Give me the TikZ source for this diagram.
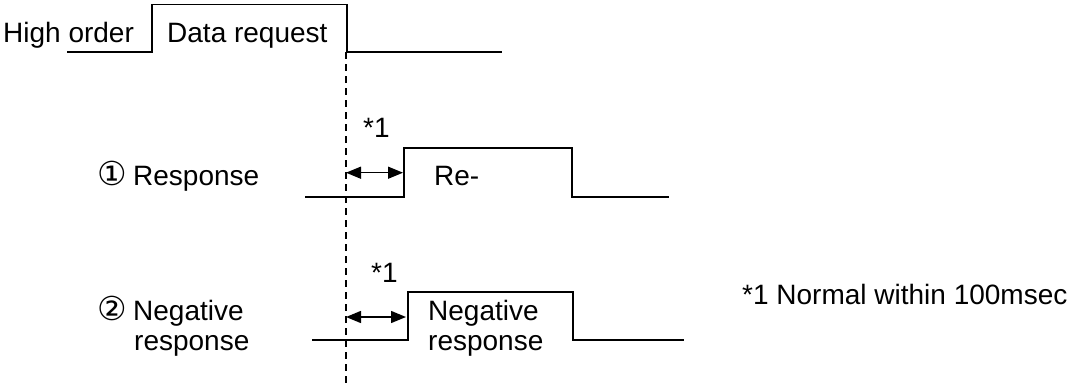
\documentclass[tikz,border=0pt]{standalone}
\usepackage{fontspec}
\setmainfont{Liberation Sans}
\newfontfamily\symfont{DejaVu Sans}
\usetikzlibrary{arrows.meta}
\newcommand{\circnum}[1]{\makebox[36pt][l]{\fontsize{33}{30}\symfont #1}}
\begin{document}
\begin{tikzpicture}[x=1pt,y=-1pt,
  wave/.style={line width=1.6pt, line join=miter},
  guide/.style={line width=1.4pt, dash pattern=on 7pt off 5pt},
  span/.style={line width=1.4pt, {Triangle[length=15pt,width=12pt]}-{Triangle[length=15pt,width=12pt]}},
  lbl/.style={anchor=base west, inner sep=0pt, font=\fontsize{28}{30}\selectfont, align=left}]
\useasboundingbox (0,0) rectangle (1074,383);
% top signal
\coordinate (t0) at (67,52);
\coordinate (t1) at (152,52);
\coordinate (t2) at (152,4.5);
\coordinate (t3) at (347,4.5);
\coordinate (t4) at (347,52);
\coordinate (t5) at (502,52);
\draw[wave] (t0) -- (t1) -- (t2) -- (t3) -- (t4) -- (t5);
\node[lbl] (hi) at (3,42) {High order};
\node[lbl] (dr) at (167,42) {Data request};
% dashed guide
\coordinate (g0) at (346,52);
\coordinate (g1) at (346,383);
\draw[guide] (g0) -- (g1);
% response
\coordinate (r0) at (305,196.7);
\coordinate (r1) at (404,196.7);
\coordinate (r2) at (404,148);
\coordinate (r3) at (572,148);
\coordinate (r4) at (572,196.7);
\coordinate (r5) at (669,196.7);
\draw[wave] (r0) -- (r1) -- (r2) -- (r3) -- (r4) -- (r5);
\coordinate (ra) at (346,172.7);
\coordinate (rb) at (403,172.7);
\draw[span] (ra) -- (rb);
\node[lbl] (rs) at (363,137) {*1};
\node[lbl] (re) at (434,185) {Re-};
\node[lbl] (l1) at (97,185) {\circnum{①}Response};
% negative response
\coordinate (n0) at (312,340);
\coordinate (n1) at (408,340);
\coordinate (n2) at (408,291.7);
\coordinate (n3) at (573,291.7);
\coordinate (n4) at (573,340);
\coordinate (n5) at (684,340);
\draw[wave] (n0) -- (n1) -- (n2) -- (n3) -- (n4) -- (n5);
\coordinate (na) at (346,317);
\coordinate (nb) at (406,317);
\draw[span] (na) -- (nb);
\node[lbl] (ns) at (371,282) {*1};
\node[lbl] (ne) at (428,350) {Negative\\response};
\node[lbl] (l2) at (97,350) {\circnum{②}Negative\\\hspace*{37pt}response};
% note
\node[lbl] (note) at (742,304) {*1 Normal within 100msec};
\end{tikzpicture}
\end{document}
